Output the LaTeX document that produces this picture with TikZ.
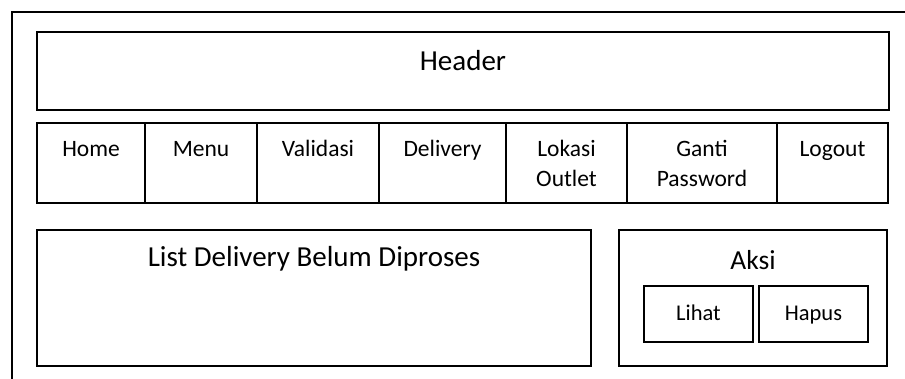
\documentclass[tikz,border=0pt]{standalone}
\usepackage{fontspec}
\setmainfont{Carlito}
\newcommand{\navfont}{\fontsize{23.5}{30}\selectfont}
\newcommand{\bigfont}{\fontsize{29}{35}\selectfont}
\newcommand{\aksifont}{\fontsize{27.5}{33}\selectfont}
\newcommand{\btnfont}{\fontsize{22.5}{27}\selectfont}

\begin{document}
\begin{tikzpicture}[x=1pt,y=-1pt]
    \tikzset{box/.style = {shape=rectangle,draw,line width=1.3pt,inner sep=0pt}}
    \tikzset{navcell/.style = {box,minimum height=80pt}}
    \tikzset{navlabel/.style = {anchor=north,inner sep=0pt,align=center,font=\navfont}}
    \tikzset{bigtext/.style = {anchor=base,inner sep=0pt,font=\bigfont}}
    \tikzset{button/.style = {box,font=\btnfont,text height=16pt,text depth=4pt,minimum width=109pt,minimum height=56pt}}
    \useasboundingbox (0,0) rectangle (905,378);
    % frame
    \node[box,line width=2pt,minimum width=908pt,minimum height=388.5pt] (page) at (466,205.75) {};
    % header
    \node[box,minimum width=852pt,minimum height=78pt] (header) at (463,71) {};
    \node[bigtext] (headertext) at ([yshift=-39pt]header.north) {Header};
    % menu bar
    \node[navcell,minimum width=108pt] (home) at (91,163) {};
    \node[navcell,minimum width=112pt] (menu) at (201,163) {};
    \node[navcell,minimum width=122pt] (validasi) at (318,163) {};
    \node[navcell,minimum width=127pt] (delivery) at (442.5,163) {};
    \node[navcell,minimum width=121pt] (lokasi) at (566.5,163) {};
    \node[navcell,minimum width=150pt] (ganti) at (702,163) {};
    \node[navcell,minimum width=111pt] (logout) at (832.5,163) {};
    \node[navlabel] (hometext) at ([yshift=-13.3pt]home.north) {\strut Home};
    \node[navlabel] (menutext) at ([yshift=-13.3pt]menu.north) {\strut Menu};
    \node[navlabel] (validasitext) at ([yshift=-13.3pt]validasi.north) {\strut Validasi};
    \node[navlabel] (deliverytext) at ([yshift=-13.3pt]delivery.north) {\strut Delivery};
    \node[navlabel] (lokasitext) at ([yshift=-13.3pt]lokasi.north) {\strut Lokasi\\Outlet};
    \node[navlabel] (gantitext) at ([yshift=-13.3pt]ganti.north) {\strut Ganti\\Password};
    \node[navlabel] (logouttext) at ([yshift=-13.3pt]logout.north) {\strut Logout};
    % content
    \node[box,minimum width=554pt,minimum height=136pt] (list) at (314,298) {};
    \node[bigtext] (listtext) at ([yshift=-37pt]list.north) {List Delivery Belum Diproses};
    \node[box,minimum width=268pt,minimum height=136pt] (aksi) at (753,298) {};
    \node[bigtext,font=\aksifont] (aksitext) at ([yshift=-40pt]aksi.north) {Aksi};
    \node[button] (lihat) at (698.5,314) {Lihat};
    \node[button] (hapus) at (813.5,314) {Hapus};
\end{tikzpicture}
\end{document}
